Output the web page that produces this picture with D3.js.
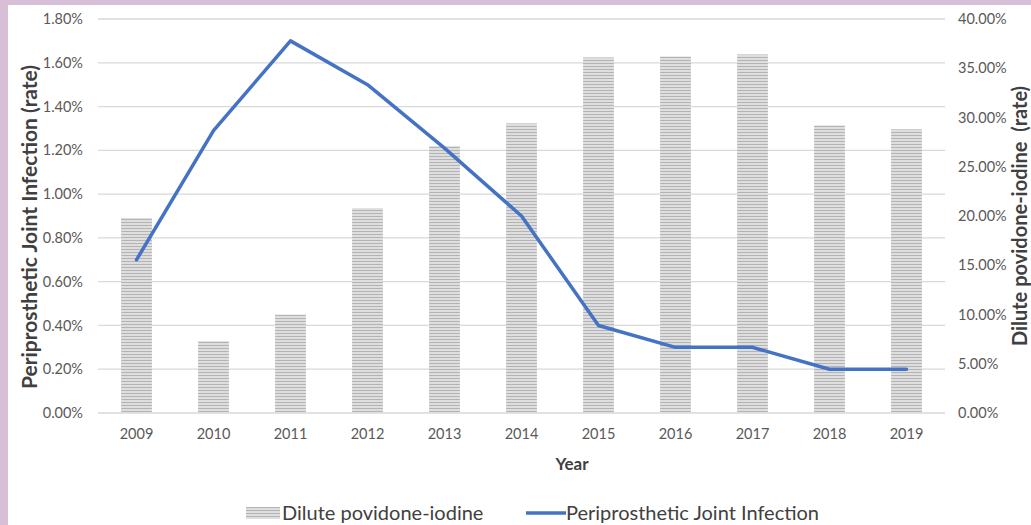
<!DOCTYPE html>
<html>
<head>
<meta charset="utf-8">
<script src="https://cdn.jsdelivr.net/npm/d3@7"></script>
<style>
  html, body { margin: 0; padding: 0; background: #d7bfd8; }
  svg { display: block; }
  text { font-family: Lato, "Open Sans", sans-serif; }
</style>
</head>
<body>
<div id="chart"></div>
<script>
// data
const years = ["2009", "2010", "2011", "2012", "2013", "2014", "2015", "2016", "2017", "2018", "2019"];
const iodine = [19.8, 7.3, 10.0, 20.8, 27.1, 29.4, 36.1, 36.2, 36.4, 29.2, 28.8]; // % (right axis)
const pji = [0.70, 1.29, 1.70, 1.50, 1.21, 0.90, 0.40, 0.30, 0.30, 0.20, 0.20];   // % (left axis)
const leftTicks = [0, 0.2, 0.4, 0.6, 0.8, 1.0, 1.2, 1.4, 1.6, 1.8];
const rightTicks = [0, 5, 10, 15, 20, 25, 30, 35, 40];

// constants
const width = 1031, height = 525;
const plot = { left: 98, right: 945, top: 19, bottom: 413 };
const lineColor = "#4472c4";
const tickColor = "#595959";
const tickSize = 14.5;

const svg = d3.select("#chart")
  .append("svg")
  .attr("width", width)
  .attr("height", height);

// white card on the purple page
svg.append("rect")
  .attr("x", 8).attr("y", 5)
  .attr("width", width - 8).attr("height", height - 5)
  .attr("fill", "#ffffff");

// striped fill for the bars
const defs = svg.append("defs");
const pat = defs.append("pattern")
  .attr("id", "stripes")
  .attr("patternUnits", "userSpaceOnUse")
  .attr("width", 6).attr("height", 3);
pat.append("rect").attr("width", 6).attr("height", 3).attr("fill", "#dedede");
pat.append("rect").attr("width", 6).attr("height", 1).attr("fill", "#b4b4b4");

const x = d3.scaleBand()
  .domain(years)
  .range([plot.left, plot.right])
  .paddingInner(0.6)
  .paddingOuter(0.3);

const yLeft = d3.scaleLinear().domain([0, 1.8]).range([plot.bottom, plot.top]);
const yRight = d3.scaleLinear().domain([0, 40]).range([plot.bottom, plot.top]);

// gridlines (left axis)
svg.append("g")
  .selectAll("line")
  .data(leftTicks)
  .enter().append("line")
    .attr("x1", plot.left).attr("x2", plot.right)
    .attr("y1", d => yLeft(d)).attr("y2", d => yLeft(d))
    .attr("stroke", "#d9d9d9")
    .attr("stroke-width", 1.3);

// left tick labels
svg.append("g")
  .selectAll("text")
  .data(leftTicks)
  .enter().append("text")
    .attr("x", 83)
    .attr("y", d => yLeft(d))
    .attr("dy", "0.35em")
    .attr("text-anchor", "end")
    .attr("font-size", tickSize)
    .attr("fill", tickColor)
    .text(d => d.toFixed(2) + "%");

// right tick labels
svg.append("g")
  .selectAll("text")
  .data(rightTicks)
  .enter().append("text")
    .attr("x", 958)
    .attr("y", d => yRight(d))
    .attr("dy", "0.35em")
    .attr("font-size", tickSize)
    .attr("fill", tickColor)
    .text(d => d.toFixed(2) + "%");

// x tick labels
svg.append("g")
  .selectAll("text")
  .data(years)
  .enter().append("text")
    .attr("x", d => x(d) + x.bandwidth() / 2)
    .attr("y", 439)
    .attr("text-anchor", "middle")
    .attr("font-size", tickSize)
    .attr("fill", tickColor)
    .text(d => d);

// bars
svg.append("g")
  .selectAll("rect")
  .data(iodine)
  .enter().append("rect")
    .attr("x", (d, i) => x(years[i]))
    .attr("y", d => yRight(d))
    .attr("width", x.bandwidth())
    .attr("height", d => plot.bottom - yRight(d))
    .attr("fill", "url(#stripes)");

// line
const line = d3.line()
  .x((d, i) => x(years[i]) + x.bandwidth() / 2)
  .y(d => yLeft(d));

svg.append("path")
  .datum(pji)
  .attr("d", line)
  .attr("fill", "none")
  .attr("stroke", lineColor)
  .attr("stroke-width", 3.5)
  .attr("stroke-linejoin", "round")
  .attr("stroke-linecap", "round");

// axis titles
svg.append("text")
  .attr("transform", "translate(37, 227) rotate(-90)")
  .attr("text-anchor", "middle")
  .attr("font-size", 21)
  .attr("font-weight", "bold")
  .attr("fill", "#404040")
  .text("Periprosthetic Joint Infection (rate)");

svg.append("text")
  .attr("transform", "translate(1027, 216) rotate(-90)")
  .attr("text-anchor", "middle")
  .attr("font-size", 20)
  .attr("font-weight", "bold")
  .attr("fill", "#404040")
  .style("white-space", "pre")
  .text("Dilute povidone-iodine  (rate)");

svg.append("text")
  .attr("x", 572)
  .attr("y", 470)
  .attr("text-anchor", "middle")
  .attr("font-size", 17)
  .attr("font-weight", "bold")
  .attr("fill", "#404040")
  .text("Year");

// legend
const legend = svg.append("g").attr("font-size", 20).attr("fill", "#404040");
legend.append("rect")
  .attr("x", 246).attr("y", 507)
  .attr("width", 34).attr("height", 12)
  .attr("fill", "url(#stripes)");
legend.append("text")
  .attr("x", 282).attr("y", 520)
  .text("Dilute povidone-iodine");
legend.append("line")
  .attr("x1", 526).attr("x2", 566)
  .attr("y1", 513).attr("y2", 513)
  .attr("stroke", lineColor)
  .attr("stroke-width", 3.5);
legend.append("text")
  .attr("x", 566).attr("y", 520)
  .text("Periprosthetic Joint Infection");
</script>
</body>
</html>
